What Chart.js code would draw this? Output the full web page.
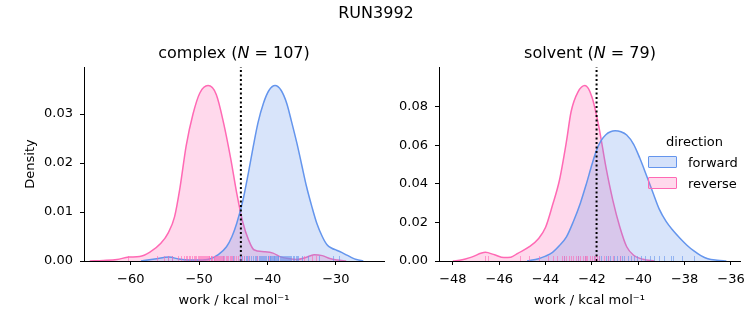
<!DOCTYPE html>
<html>
<head>
<meta charset="utf-8">
<script src="https://cdn.jsdelivr.net/npm/chart.js@4.4.1/dist/chart.umd.min.js"></script>
<style>
  body { margin: 0; background: #fff; }
  #wrap { position: relative; width: 753px; height: 325px; font-family: 'DejaVu Sans', sans-serif; color: #000; }
  canvas { position: absolute; top: 0; }
  .txt { position: absolute; white-space: nowrap; text-align: center; }
  .leg { position: absolute; font-size: 13px; line-height: 13px; white-space: nowrap; }
  .patch { position: absolute; width: 27px; height: 10px; border-radius: 1px; }
</style>
</head>
<body>
<div id="wrap">
  <canvas id="complexChart" width="400" height="325" style="left:0px"></canvas>
  <canvas id="solventChart" width="373" height="325" style="left:380px"></canvas>

  <div class="txt" style="left:276px;width:200px;top:5px;font-size:16px;line-height:16px">RUN3992</div>
  <div class="txt" style="left:134px;width:200px;top:45px;font-size:16px;line-height:16px">complex (<i>N</i> = 107)</div>
  <div class="txt" style="left:490px;width:200px;top:45px;font-size:16px;line-height:16px">solvent (<i>N</i> = 79)</div>

  <div class="leg" style="left:666px;top:135px">direction</div>
  <div class="patch" style="left:648px;top:156px;border:1.5px solid #6495ED;background:rgba(100,149,237,0.28)"></div>
  <div class="leg" style="left:688px;top:156px">forward</div>
  <div class="patch" style="left:648px;top:177px;border:1.5px solid #FF69B4;background:rgba(255,105,180,0.25)"></div>
  <div class="leg" style="left:688px;top:177px">reverse</div>
</div>
<script>
// complex leg: KDE curves
const complexForwardX = [-58.5, -56.5, -54.4, -53.0, -51.5, -50.0, -48.5, -47.2, -46.0, -45.2, -44.5, -43.6, -42.8, -42.1, -41.4, -40.6, -39.8, -38.9, -38.0, -37.2, -36.5, -35.7, -35.0, -34.3, -33.5, -32.8, -32.0, -31.3, -30.6, -29.9, -29.1, -28.4, -27.7, -27.0, -26.0];
const complexForwardY = [0.0000, 0.0004, 0.0008, 0.0004, 0.0002, 0.0002, 0.0004, 0.0013, 0.0029, 0.0050, 0.0077, 0.0124, 0.0180, 0.0233, 0.0282, 0.0322, 0.0348, 0.0358, 0.0348, 0.0322, 0.0285, 0.0240, 0.0196, 0.0152, 0.0110, 0.0077, 0.0050, 0.0033, 0.0026, 0.0022, 0.0017, 0.0012, 0.0007, 0.0003, 0.0000];
const complexReverseX = [-66.0, -64.0, -62.0, -60.3, -58.7, -57.2, -55.6, -54.5, -53.6, -52.8, -51.9, -50.9, -49.9, -48.7, -47.5, -46.4, -45.4, -44.5, -43.6, -42.8, -42.0, -40.5, -39.2, -38.2, -37.0, -35.7, -34.4, -33.2, -32.0, -30.9, -29.8, -28.5];
const complexReverseY = [0.0000, 0.0001, 0.0003, 0.0008, 0.0009, 0.0018, 0.0036, 0.0058, 0.0090, 0.0150, 0.0235, 0.0300, 0.0343, 0.0358, 0.0340, 0.0280, 0.0210, 0.0138, 0.0078, 0.0044, 0.0023, 0.0019, 0.0016, 0.0009, 0.0005, 0.0003, 0.0007, 0.0013, 0.0011, 0.0005, 0.0002, 0.0000];

// solvent leg
const solventForwardX = [-44.8, -44.3, -44.0, -43.7, -43.4, -43.1, -42.8, -42.5, -42.24, -42.0, -41.8, -41.6, -41.4, -41.2, -41.0, -40.75, -40.5, -40.2, -39.94, -39.65, -39.37, -39.1, -38.8, -38.5, -38.2, -37.9, -37.6, -37.3, -37.0, -36.6, -36.2];
const solventForwardY = [0.0000, 0.0012, 0.0025, 0.0045, 0.0080, 0.0125, 0.0205, 0.0300, 0.0400, 0.0500, 0.0575, 0.0625, 0.0655, 0.0670, 0.0675, 0.0670, 0.0653, 0.0605, 0.0535, 0.0445, 0.0355, 0.0270, 0.0205, 0.0158, 0.0118, 0.0082, 0.0052, 0.0028, 0.0012, 0.0004, 0.0000];
const solventReverseX = [-48.0, -47.6, -47.2, -46.6, -46.2, -45.8, -45.5, -45.2, -44.7, -44.3, -44.0, -43.7, -43.4, -43.1, -42.9, -42.6, -42.3, -42.0, -41.7, -41.4, -41.1, -40.8, -40.5, -40.2, -39.8, -39.3];
const solventReverseY = [0.0000, 0.0006, 0.0020, 0.0045, 0.0032, 0.0018, 0.0020, 0.0040, 0.0074, 0.0117, 0.0175, 0.0290, 0.0420, 0.0620, 0.0774, 0.0877, 0.0910, 0.0851, 0.0696, 0.0489, 0.0316, 0.0178, 0.0074, 0.0030, 0.0009, 0.0000];

// rug (individual work values)
const complexRugForward = [-54.6, -54.0, -46.5, -45.0, -44.1, -43.8, -43.5, -43.2, -43.0, -42.7, -42.4, -42.1, -41.9, -41.7, -41.5, -41.3, -41.1, -40.9, -40.8, -40.6, -40.5, -40.3, -40.2, -40.0, -39.9, -39.7, -39.6, -39.5, -39.4, -39.2, -39.1, -39.0, -38.9, -38.7, -38.6, -38.5, -38.4, -38.2, -38.1, -37.9, -37.8, -37.6, -37.5, -37.3, -37.1, -37.0, -36.8, -36.7, -36.5, -36.3, -36.1, -35.9, -35.7, -35.5, -34.9, -34.1, -32.5, -30.4, -29.6];
const complexRugReverse = [-60.4, -56.1, -55.2, -54.6, -53.9, -53.1, -52.6, -52.2, -51.9, -51.8, -51.5, -51.3, -51.1, -50.8, -50.6, -50.5, -50.2, -50.0, -49.9, -49.7, -49.6, -49.4, -49.3, -49.1, -49.0, -48.9, -48.7, -48.6, -48.5, -48.3, -48.2, -48.1, -47.9, -47.8, -47.7, -47.5, -47.4, -47.3, -47.1, -47.0, -46.8, -46.6, -46.5, -46.3, -46.1, -45.9, -45.8, -45.5, -45.3, -45.2, -44.9, -44.6, -44.3, -43.9, -43.4, -42.8, -41.5, -39.8, -34.6, -33.5, -32.9];
const solventRugForward = [-43.2, -42.6, -42.3, -41.9, -41.7, -41.6, -41.4, -41.3, -41.2, -41.05, -40.9, -40.8, -40.7, -40.6, -40.45, -40.3, -40.2, -40.05, -39.9, -39.7, -39.5, -39.3, -39.1, -38.9, -38.6, -38.5, -38.1, -37.6];
const solventRugReverse = [-46.6, -46.5, -45.1, -44.7, -44.3, -43.9, -43.7, -43.5, -43.3, -43.2, -43.1, -43.0, -42.9, -42.8, -42.7, -42.6, -42.5, -42.4, -42.3, -42.25, -42.2, -42.1, -42.0, -41.9, -41.85, -41.8, -41.7, -41.5, -41.3, -41.1, -40.8];

const complexMean = -43.9;
const solventMean = -41.8;

const complexXTicks = [-60, -50, -40, -30];
const complexYTicks = [0, 0.01, 0.02, 0.03];
const solventXTicks = [-48, -46, -44, -42, -40, -38, -36];
const solventYTicks = [0, 0.02, 0.04, 0.06, 0.08];

Chart.defaults.font.family = "'DejaVu Sans', sans-serif";
Chart.defaults.font.size = 13;
Chart.defaults.color = '#000';

const FWD = '#6495ED';
const REV = '#FF69B4';
const FWD_FILL = 'rgba(100,149,237,0.25)';
const REV_FILL = 'rgba(255,105,180,0.25)';

function pts(xs, ys) {
  return xs.map((x, i) => ({ x: x, y: ys[i] }));
}

// little rug ticks along the bottom of the axes
function rugPlugin(sets) {
  return {
    id: 'rug',
    afterDatasetsDraw(chart) {
      const { ctx, chartArea, scales } = chart;
      sets.forEach(s => {
        ctx.save();
        ctx.strokeStyle = s.color;
        ctx.lineWidth = 1;
        s.values.forEach(v => {
          const px = Math.round(scales.x.getPixelForValue(v)) + 0.5;
          ctx.beginPath();
          ctx.moveTo(px, chartArea.bottom);
          ctx.lineTo(px, chartArea.bottom - 5);
          ctx.stroke();
        });
        ctx.restore();
      });
    }
  };
}

function minus(v) {
  return (v < 0 ? '\u2212' : '') + Math.abs(v);
}

function kdePanel(id, o) {
  return new Chart(document.getElementById(id), {
    type: 'line',
    data: {
      datasets: [
        {
          data: [{ x: o.mean, y: o.yMin }, { x: o.mean, y: o.yMax }],
          borderColor: '#000', borderWidth: 2, borderDash: [2, 2.5],
          pointRadius: 0, fill: false
        },
        {
          label: 'forward', data: pts(o.fx, o.fy),
          borderColor: FWD, backgroundColor: FWD_FILL, borderWidth: 1.5,
          fill: 'origin', pointRadius: 0, cubicInterpolationMode: 'monotone'
        },
        {
          label: 'reverse', data: pts(o.rx, o.ry),
          borderColor: REV, backgroundColor: REV_FILL, borderWidth: 1.5,
          fill: 'origin', pointRadius: 0, cubicInterpolationMode: 'monotone'
        }
      ]
    },
    options: {
      responsive: false,
      animation: false,
      devicePixelRatio: 1,
      layout: { padding: { left: 0, right: o.padRight, top: 67, bottom: 0 } },
      plugins: { legend: { display: false }, tooltip: { enabled: false } },
      scales: {
        x: {
          type: 'linear', min: o.xMin, max: o.xMax,
          afterFit: s => { s.height = 64; },
          afterBuildTicks: s => { s.ticks = o.xTicks.map(v => ({ value: v })); },
          ticks: { autoSkip: false, maxRotation: 0, padding: 7, callback: v => minus(v) },
          grid: { drawOnChartArea: false, drawTicks: true, tickLength: 4, tickColor: '#000', tickWidth: 1 },
          border: { display: true, color: '#000', width: 1 },
          title: { display: true, text: 'work / kcal mol\u207B\u00B9', padding: { top: 0, bottom: 17 } }
        },
        y: {
          min: o.yMin, max: o.yMax,
          afterFit: s => { s.width = o.yWidth; },
          afterBuildTicks: s => { s.ticks = o.yTicks.map(v => ({ value: v })); },
          ticks: { autoSkip: false, padding: 7, callback: v => v.toFixed(o.decimals) },
          grid: { drawOnChartArea: false, drawTicks: true, tickLength: 4, tickColor: '#000', tickWidth: 1 },
          border: { display: true, color: '#000', width: 1 },
          title: { display: o.yLabel !== '', text: o.yLabel, padding: { top: 23, bottom: 0 } }
        }
      }
    },
    plugins: [rugPlugin([
      { color: 'rgba(100,149,237,0.6)', values: o.rugF },
      { color: 'rgba(255,105,180,0.6)', values: o.rugR }
    ])]
  });
}

kdePanel('complexChart', {
  fx: complexForwardX, fy: complexForwardY, rx: complexReverseX, ry: complexReverseY,
  rugF: complexRugForward, rugR: complexRugReverse, mean: complexMean,
  xMin: -66.84, xMax: -22.97, yMin: 0, yMax: 0.0396,
  xTicks: complexXTicks, yTicks: complexYTicks, decimals: 2,
  yWidth: 84, padRight: 16, yLabel: 'Density'
});

kdePanel('solventChart', {
  fx: solventForwardX, fy: solventForwardY, rx: solventReverseX, ry: solventReverseY,
  rugF: solventRugForward, rugR: solventRugReverse, mean: solventMean,
  xMin: -48.6, xMax: -35.61, yMin: 0, yMax: 0.1006,
  xTicks: solventXTicks, yTicks: solventYTicks, decimals: 2,
  yWidth: 59, padRight: 13, yLabel: ''
});
</script>
</body>
</html>
